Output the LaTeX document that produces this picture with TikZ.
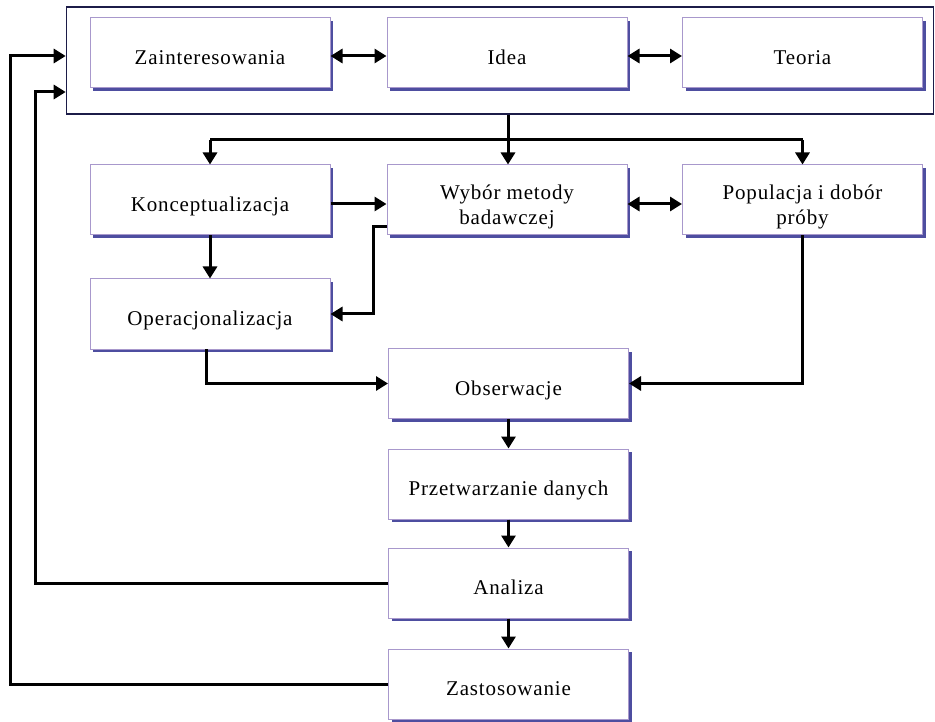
\documentclass[tikz,border=0pt]{standalone}
\usepackage{fontspec}
\setmainfont{Liberation Serif}[LetterSpace=4]
\usetikzlibrary{shadows,arrows.meta,calc}
\definecolor{bxline}{HTML}{A898CC}
\definecolor{bxshadow}{HTML}{4E4EA0}
\definecolor{outerline}{HTML}{1C1C48}
\tikzset{
  box/.style={draw=bxline, line width=1pt, fill=white, minimum width=240pt, minimum height=70pt,
    inner sep=0pt, align=center, text height=23pt, text depth=0pt, font=\fontsize{21pt}{25pt}\selectfont,
    drop shadow={shadow xshift=3pt, shadow yshift=-3pt, fill=bxshadow, opacity=1}},
  boxtwo/.style={box, text height=50pt},
  conn/.style={line width=3pt, black},
  arr/.style={conn, -{Triangle[length=12pt,width=14pt]}},
  dbl/.style={conn, {Triangle[length=12pt,width=14pt]}-{Triangle[length=12pt,width=14pt]}}
}
\begin{document}
\begin{tikzpicture}[x=1pt,y=-1pt]
\useasboundingbox (0,0) rectangle (935,722);
\node[draw=outerline, line width=1.6pt, minimum width=867pt, minimum height=107pt, inner sep=0pt] (outer) at (500,60.5) {};
\node[box] (zai) at (210,53) {Zainteresowania};
\node[box] (idea) at (507,53) {Idea};
\node[box] (teo) at (802.5,53) {Teoria};
\node[box] (kon) at (210,200) {Konceptualizacja};
\node[boxtwo] (wyb) at (507,200) {Wybór metody\\badawczej};
\node[boxtwo] (pop) at (802.5,200) {Populacja i dobór\\próby};
\node[box] (ope) at (210,314) {Operacjonalizacja};
\node[box] (obs) at (508.5,383.5) {Obserwacje};
\node[box] (prz) at (508.5,484) {Przetwarzanie danych};
\node[box] (ana) at (508.5,583) {Analiza};
\node[box] (zas) at (508.5,684) {Zastosowanie};
% top row
\draw[dbl] (zai.east |- 0,56) -- (idea.west |- 0,56);
\draw[dbl] (idea.east |- 0,56) -- (teo.west |- 0,56);
% distribution
\coordinate (j) at (508,140);
\draw[conn] (j -| kon) -- (j -| pop);
\draw[arr] (outer.south -| j) -- (wyb.north -| j);
\draw[arr] (j -| kon) -- (kon.north);
\draw[arr] (j -| pop) -- (pop.north);
% row 2
\draw[arr] (kon.east |- 0,204) -- (wyb.west |- 0,204);
\draw[dbl] (wyb.east |- 0,204) -- (pop.west |- 0,204);
\draw[arr] (kon.south) -- (ope.north);
\coordinate (w1) at (373,227);
\draw[arr] (wyb.west |- w1) -- (w1) |- (ope.east);
\coordinate (o1) at (206,349);
\draw[arr] (o1) |- (obs.west);
\draw[arr] (pop.south) |- (obs.east);
% vertical chain
\draw[arr] (obs.south) -- (prz.north);
\draw[arr] (prz.south) -- (ana.north);
\draw[arr] (ana.south) -- (zas.north);
% feedback
\coordinate (l1) at (35,92);
\draw[arr] (ana.west) -| (l1) -- (l1 -| outer.west);
\coordinate (l2) at (10,56);
\draw[arr] (zas.west) -| (l2) -- (l2 -| outer.west);
\end{tikzpicture}
\end{document}
